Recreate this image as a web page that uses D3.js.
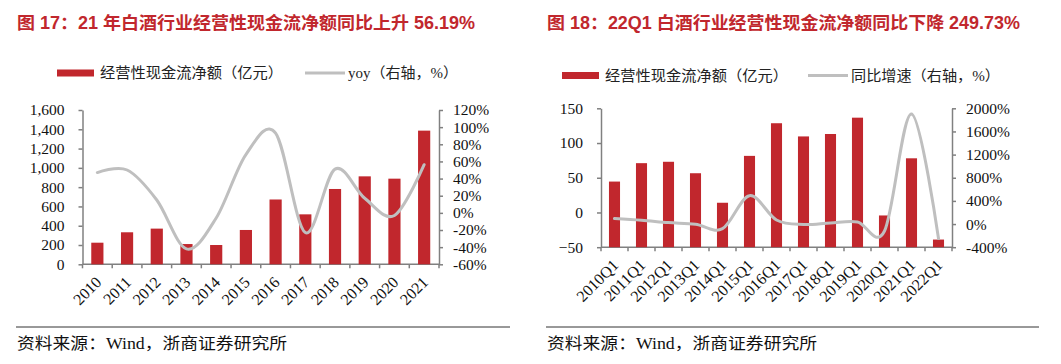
<!DOCTYPE html>
<html>
<head>
<meta charset="utf-8">
<script src="https://cdn.jsdelivr.net/npm/d3@7"></script>
<style>
  body { margin: 0; background: #fff; }
  svg { display: block; }
</style>
</head>
<body>
<svg id="chart" width="1061" height="364"></svg>
<script>
// Fig 17 - annual
const years = ["2010","2011","2012","2013","2014","2015","2016","2017","2018","2019","2020","2021"];
const yearCash = [224, 332, 370, 210, 200, 356, 672, 518, 781, 912, 888, 1386];
const yearYoy = [47, 50, 15, -42, -6, 68, 93, -23, 51, 17, -3, 56.19];
const yearLeftTicks = [0, 200, 400, 600, 800, 1000, 1200, 1400, 1600];
const yearRightTicks = [-60, -40, -20, 0, 20, 40, 60, 80, 100, 120];

// Fig 18 - Q1
const quarters = ["2010Q1","2011Q1","2012Q1","2013Q1","2014Q1","2015Q1","2016Q1","2017Q1","2018Q1","2019Q1","2020Q1","2021Q1","2022Q1"];
const q1Cash = [44.5, 71, 73, 56.5, 14, 81.5, 128.5, 109.5, 113, 136.5, -4.3, 78, -39];
const q1Yoy = [95, 65, 25, -5, -80, 490, 70, -8, 20, 37, -120, 1900, -249.73];
const q1LeftTicks = [-50, 0, 50, 100, 150];
const q1RightTicks = [-400, 0, 400, 800, 1200, 1600, 2000];

const RED = "#c1272d", GREY = "#bfbfbf", AXIS = "#808080";
const SERIF = "'Liberation Serif','Times New Roman','Noto Sans CJK SC',serif";
const TITLEF = "'Liberation Sans','Noto Sans CJK SC',sans-serif";

const svg = d3.select("#chart");

function drawPanel(o) {
  const g = svg.append("g").attr("transform", `translate(${o.dx},0)`);

  // title
  g.append("text")
    .attr("x", 17).attr("y", 29)
    .attr("fill", RED)
    .style("font-family", TITLEF)
    .style("font-weight", "bold")
    .style("font-size", "17.5px")
    .attr("textLength", o.titleLen).attr("lengthAdjust", "spacingAndGlyphs")
    .text(o.title);

  // legend
  const ly = o.legendY;
  g.append("rect").attr("x", o.leg[0]).attr("y", ly - 3.5).attr("width", 37).attr("height", 7).attr("fill", RED);
  g.append("text").attr("x", o.leg[0] + 43).attr("y", ly + 5)
    .style("font-family", SERIF).style("font-size", "14.5px").attr("fill", "#222")
    .attr("textLength", 183).attr("lengthAdjust", "spacingAndGlyphs")
    .text("经营性现金流净额（亿元）");
  g.append("line").attr("x1", o.leg[1]).attr("x2", o.leg[1] + 40).attr("y1", ly).attr("y2", ly)
    .attr("stroke", GREY).attr("stroke-width", 3);
  g.append("text").attr("x", o.leg[1] + 43).attr("y", ly + 5)
    .style("font-family", SERIF).style("font-size", "14.5px").attr("fill", "#222")
    .attr("textLength", o.leg2Len).attr("lengthAdjust", "spacingAndGlyphs")
    .text(o.leg2);

  const x = d3.scaleBand().domain(o.cats).range([o.x0, o.x1]).paddingInner(0).paddingOuter(0);
  const y = d3.scaleLinear().domain(d3.extent(o.leftTicks)).range([o.yB, o.yT]);
  const y2 = d3.scaleLinear().domain(d3.extent(o.rightTicks)).range([o.yB, o.yT]);

  // left axis
  const ax = g.append("g").attr("transform", `translate(${o.x0},0)`)
    .call(d3.axisLeft(y).tickValues(o.leftTicks).tickFormat(d3.format(",")).tickSize(4).tickSizeOuter(0).tickPadding(14));
  // right axis
  const ax2 = g.append("g").attr("transform", `translate(${o.x1},0)`)
    .call(d3.axisRight(y2).tickValues(o.rightTicks).tickFormat(d => d + "%").tickSize(4).tickSizeOuter(0).tickPadding(10));
  [ax, ax2].forEach(a => {
    a.selectAll("path, line").attr("stroke", AXIS).attr("stroke-width", 1.5);
    a.selectAll("text").style("font-family", SERIF).style("font-size", "15.5px").attr("fill", "#111");
  });

  // x axis with ticks at category boundaries
  const bounds = o.cats.map(c => x(c)).concat([x(o.cats[o.cats.length - 1]) + x.bandwidth()]);
  g.append("line").attr("x1", o.x0).attr("x2", o.x1).attr("y1", o.yB).attr("y2", o.yB)
    .attr("stroke", AXIS).attr("stroke-width", 1.5);
  g.selectAll(".xt").data(bounds).join("line")
    .attr("x1", d => d).attr("x2", d => d).attr("y1", o.yB).attr("y2", o.yB + 4)
    .attr("stroke", AXIS).attr("stroke-width", 1.5);
  g.selectAll(".xl").data(o.cats).join("text")
    .attr("transform", d => `translate(${x(d) + x.bandwidth() / 2 + 5},${o.yB + 19}) rotate(-45)`)
    .attr("text-anchor", "end")
    .style("font-family", SERIF).style("font-size", "16px").attr("fill", "#111")
    .text(d => d);

  // bars, drawn up from the bottom of the axis
  const bw = x.bandwidth() * 0.41;
  g.selectAll(".bar").data(o.cash).join("rect")
    .attr("x", (d, i) => x(o.cats[i]) + x.bandwidth() / 2 - bw / 2)
    .attr("y", d => y(d))
    .attr("width", bw)
    .attr("height", d => o.yB - y(d))
    .attr("fill", RED);

  // smoothed yoy line
  const line = d3.line()
    .x((d, i) => x(o.cats[i]) + x.bandwidth() / 2)
    .y(d => y2(d))
    .curve(d3.curveCardinal.tension(0));
  g.append("path").datum(o.yoy).attr("d", line)
    .attr("fill", "none").attr("stroke", GREY).attr("stroke-width", 3).attr("stroke-linecap", "round");

  // footer
  g.append("line").attr("x1", 16).attr("x2", o.footW).attr("y1", 327).attr("y2", 327)
    .attr("stroke", "#333").attr("stroke-width", 1);
  g.append("text").attr("x", 17).attr("y", 349)
    .style("font-family", SERIF).style("font-size", "16px").attr("fill", "#111")
    .attr("textLength", 270).attr("lengthAdjust", "spacingAndGlyphs")
    .text("资料来源：Wind，浙商证券研究所");
}

drawPanel({
  dx: 0,
  title: "图 17：21 年白酒行业经营性现金流净额同比上升 56.19%",
  titleLen: 458,
  cats: years, cash: yearCash, yoy: yearYoy,
  leftTicks: yearLeftTicks, rightTicks: yearRightTicks,
  x0: 82.5, x1: 439, yT: 110, yB: 264.3,
  legendY: 73, leg: [57, 305], leg2: "yoy（右轴，%）", leg2Len: 110,
  footW: 510
});

drawPanel({
  dx: 530,
  title: "图 18：22Q1 白酒行业经营性现金流净额同比下降 249.73%",
  titleLen: 473,
  cats: quarters, cash: q1Cash, yoy: q1Yoy,
  leftTicks: q1LeftTicks, rightTicks: q1RightTicks,
  x0: 71, x1: 422, yT: 108.3, yB: 247.2,
  legendY: 75.5, leg: [32, 278], leg2: "同比增速（右轴，%）", leg2Len: 149,
  footW: 509
});
</script>
</body>
</html>
